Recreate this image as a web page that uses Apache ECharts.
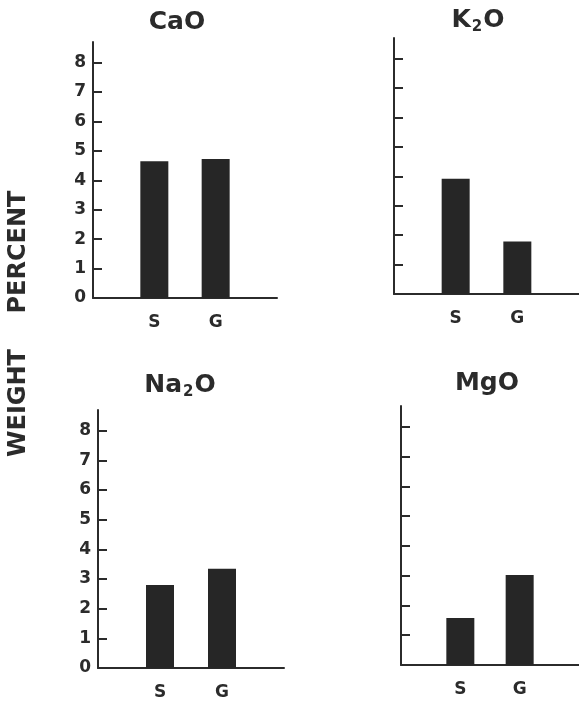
<!DOCTYPE html>
<html><head><meta charset="utf-8">
<script src="https://cdn.jsdelivr.net/npm/echarts@6/dist/echarts.min.js"></script>
<style>html,body{margin:0;padding:0;background:#fff}#c{width:579px;height:706px}</style>
</head><body><div id="c"></div>
<script>
const categories = ['S', 'G'];
const caoValues = [4.65, 4.72];
const k2oValues = [3.92, 1.78];
const na2oValues = [2.8, 3.35];
const mgoValues = [1.58, 3.02];
const yTickValues = [0, 1, 2, 3, 4, 5, 6, 7, 8];
const titleTexts = ['{n|CaO}', '{n|K}{s|2}{n|O}', '{n|Na}{s|2}{n|O}', '{n|MgO}'];
const axisTitleWords = ['PERCENT', 'WEIGHT'];

const FONT = 'DejaVu Sans';
const INK = '#2b2b2b';
const panels = [
  {vals: caoValues, grid: {left: 93, top: 42, width: 184, height: 256}, showLabels: true, title: [177, 22]},
  {vals: k2oValues, grid: {left: 394, top: 38, width: 186, height: 256}, showLabels: false, title: [478, 20]},
  {vals: na2oValues, grid: {left: 98, top: 410, width: 186, height: 258}, showLabels: true, title: [180, 385]},
  {vals: mgoValues, grid: {left: 401, top: 406, width: 190, height: 259}, showLabels: false, title: [487, 383]}
];

const chart = echarts.init(document.getElementById('c'), null, {renderer: 'canvas'});
const option = {
  animation: false,
  backgroundColor: '#fff',
  grid: panels.map(p => Object.assign({containLabel: false}, p.grid)),
  xAxis: panels.map((p, i) => ({
    type: 'value', gridIndex: i, min: 0, max: 3,
    splitLine: {show: false},
    axisLine: {show: true, onZero: false, lineStyle: {color: INK, width: 2}},
    axisTick: {show: false},
    axisLabel: {
      customValues: [1, 2], margin: 16,
      formatter: v => categories[Math.round(v) - 1] || '',
      color: INK, fontFamily: FONT, fontWeight: 'bold', fontSize: 17
    }
  })),
  yAxis: panels.map((p, i) => ({
    type: 'value', gridIndex: i, min: 0, max: 8.7,
    splitLine: {show: false},
    axisLine: {show: true, onZero: false, lineStyle: {color: INK, width: 2}},
    axisTick: {show: true, inside: true, length: 9, customValues: yTickValues.slice(1), lineStyle: {color: INK, width: 2}},
    axisLabel: {
      show: p.showLabels, customValues: yTickValues, margin: 7,
      color: INK, fontFamily: FONT, fontWeight: 'bold', fontSize: 17
    }
  })),
  series: panels.map((p, i) => ({
    type: 'bar', xAxisIndex: i, yAxisIndex: i, barWidth: 28,
    itemStyle: {color: '#262626'},
    data: categories.map((c, j) => [j + 1, p.vals[j]])
  })),
  graphic: panels.map((p, i) => ({
    type: 'text', x: p.title[0], y: p.title[1],
    style: {
      text: titleTexts[i], align: 'center', verticalAlign: 'middle',
      rich: {
        n: {fontFamily: FONT, fontWeight: 'bold', fontSize: 25, fill: INK, lineHeight: 30},
        s: {fontFamily: FONT, fontWeight: 'bold', fontSize: 15, fill: INK, lineHeight: 30, padding: [14, 1, 0, 1]}
      }
    }
  })).concat([
    {type: 'text', x: 19, y: 252, rotation: Math.PI / 2,
     style: {text: axisTitleWords[0], align: 'center', verticalAlign: 'middle', fontFamily: FONT, fontWeight: 'bold', fontSize: 24, fill: INK}},
    {type: 'text', x: 19, y: 403, rotation: Math.PI / 2,
     style: {text: axisTitleWords[1], align: 'center', verticalAlign: 'middle', fontFamily: FONT, fontWeight: 'bold', fontSize: 24, fill: INK}}
  ])
};
chart.setOption(option);
</script></body></html>
